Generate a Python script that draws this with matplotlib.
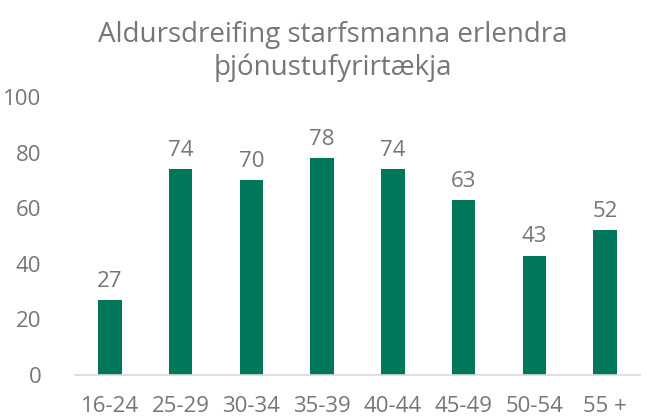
import matplotlib.pyplot as plt

plt.rcParams['font.family'] = ['Open Sans', 'DejaVu Sans']

categories = ['16-24', '25-29', '30-34', '35-39', '40-44', '45-49', '50-54', '55 +']
values = [27, 74, 70, 78, 74, 63, 43, 52]

gray = '#767676'
green = '#00765A'

fig = plt.figure(figsize=(6.5, 4.2), dpi=100)
ax = fig.add_axes([0.115, 0.107, 0.87, 0.662])

x = range(len(categories))
ax.bar(x, values, width=0.33, color=green)
for i, v in zip(x, values):
    ax.text(i, v + 3, str(v), ha='center', va='bottom', fontsize=16, color=gray)

ax.set_xlim(-0.5, len(categories) - 0.5)
ax.set_ylim(0, 100)
ax.set_yticks(range(0, 101, 20))
ax.set_xticks(list(x))
ax.set_xticklabels(categories)
ax.tick_params(axis='both', length=0, labelsize=16, labelcolor=gray)
ax.tick_params(axis='x', pad=15)
ax.tick_params(axis='y', pad=24)

for s in ['top', 'right', 'left']:
    ax.spines[s].set_visible(False)
ax.spines['bottom'].set_color('#D9D9D9')
ax.spines['bottom'].set_linewidth(1.2)

fig.text(0.512, 0.878, 'Aldursdreifing starfsmanna erlendra\nþjónustufyrirtækja',
         ha='center', va='center', fontsize=20, color=gray, linespacing=1.2)

fig.savefig('out.png', dpi=100)
